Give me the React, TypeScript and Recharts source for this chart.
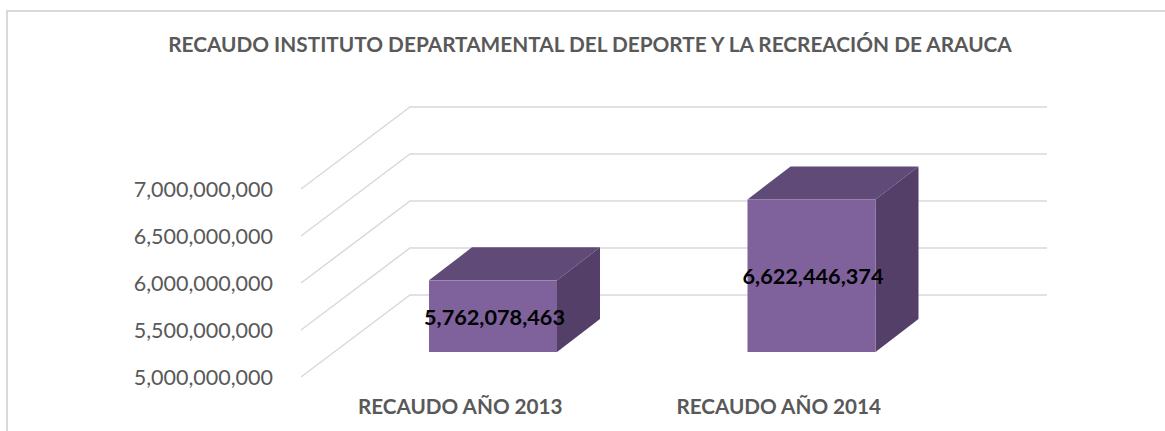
import { BarChart, Bar, XAxis, YAxis, CartesianGrid, LabelList } from "recharts";

const categories = ["RECAUDO AÑO 2013", "RECAUDO AÑO 2014"];
const recaudo = [5762078463, 6622446374];
const yTicks = [5000000000, 5500000000, 6000000000, 6500000000, 7000000000];

const chartData = categories.map((name, i) => ({ name, value: recaudo[i] }));

const FONT = "Lato, sans-serif";
const fmt = (v: number) => new Intl.NumberFormat("en-US").format(v);

// fake 3D: depth of the bars and of the floor/side wall
const BAR_DX = 43;
const BAR_DY = 33;

function Bar3D({ x, y, width, height }: any) {
  const r = x + width;
  const b = y + height;
  return (
    <g>
      <polygon points={`${x},${y} ${x + BAR_DX},${y - BAR_DY} ${r + BAR_DX},${y - BAR_DY} ${r},${y}`} fill="#604b78" />
      <polygon points={`${r},${y} ${r + BAR_DX},${y - BAR_DY} ${r + BAR_DX},${b - BAR_DY} ${r},${b}`} fill="#533f68" />
      <rect x={x} y={y} width={width} height={height} fill="#7f629c" />
    </g>
  );
}

// gridline goes along the side wall then the back wall
function GridLine3D({ y1 }: any) {
  return (
    <polyline
      points={`301,${y1 + 25} 410,${y1 - 57} 1047,${y1 - 57}`}
      fill="none"
      stroke="#d9d9d9"
      strokeWidth={1.5}
    />
  );
}

function YTick({ y, payload }: any) {
  return (
    <text x={273} y={y + 25} dy={8} textAnchor="end" fontFamily={FONT} fontSize={21.5} fill="#595959">
      {fmt(payload.value)}
    </text>
  );
}

function XTick({ x, payload }: any) {
  return (
    <text x={x - 33} y={414} textAnchor="middle" fontFamily={FONT} fontSize={20.7} fontWeight={700} fill="#595959">
      {payload.value}
    </text>
  );
}

export default function App() {
  return (
    <div style={{ position: "absolute", left: 0, top: 0, width: 1165, height: 431, overflow: "hidden", background: "#fff" }}>
      <div style={{ position: "absolute", left: 6, top: 10, width: 1170, height: 430, borderLeft: "2px solid #d9d9d9", borderTop: "2px solid #d9d9d9" }} />
      <BarChart
        width={1165}
        height={431}
        data={chartData}
        margin={{ top: 164, right: 194, bottom: 0, left: 0 }}
        style={{ position: "absolute", left: 0, top: 0 }}
      >
        <text x={590} y={52} textAnchor="middle" fontFamily={FONT} fontSize={20.8} fontWeight={700} fill="#595959">
          RECAUDO INSTITUTO DEPARTAMENTAL DEL DEPORTE Y LA RECREACIÓN DE ARAUCA
        </text>
        <CartesianGrid horizontal={(p: any) => <GridLine3D key={p.index} {...p} />} vertical={false} />
        <XAxis dataKey="name" height={79} axisLine={false} tickLine={false} tick={<XTick />} interval={0} />
        <YAxis
          width={334}
          domain={[5000000000, 7000000000]}
          ticks={yTicks}
          axisLine={false}
          tickLine={false}
          tick={<YTick />}
          interval={0}
        />
        <Bar dataKey="value" barSize={128} shape={<Bar3D />} isAnimationActive={false}>
          <LabelList
            dataKey="value"
            position="center"
            formatter={(v: any) => fmt(Number(v))}
            fontFamily={FONT}
            fontSize={21.7}
            fontWeight={700}
            fill="#000"
            dx={1.5}
            dy={1}
          />
        </Bar>
      </BarChart>
    </div>
  );
}
